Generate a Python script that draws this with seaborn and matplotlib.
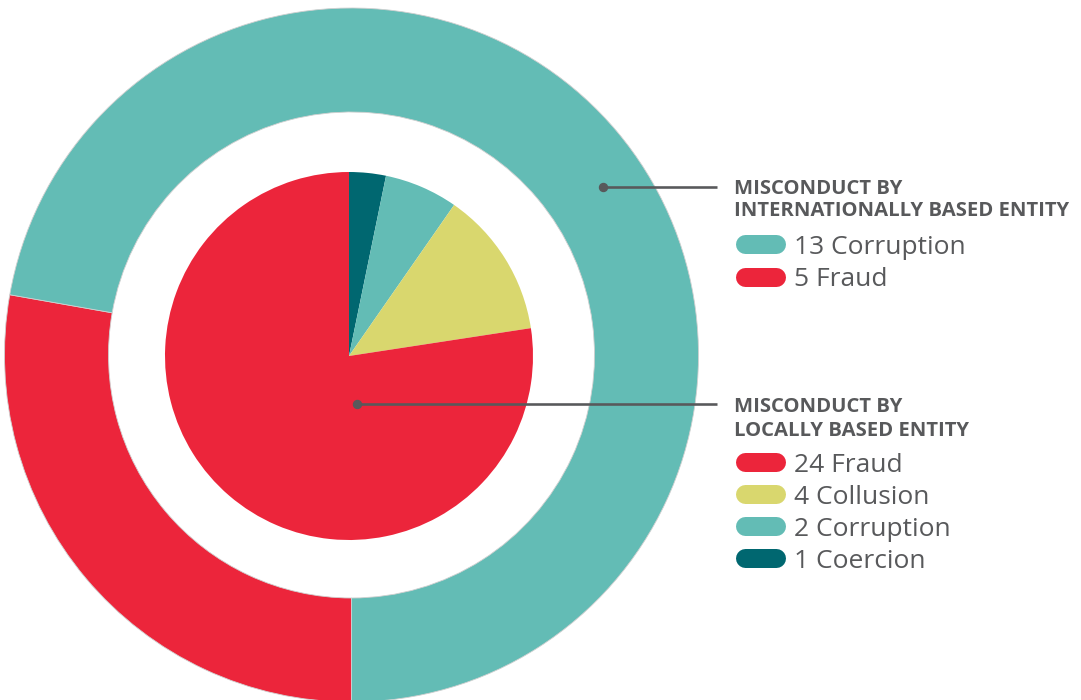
import matplotlib
matplotlib.use("Agg")
import matplotlib.pyplot as plt
import seaborn as sns

# ---- data ----
outer_labels = ["Fraud", "Corruption"]
outer_values = [5, 13]
inner_labels = ["Coercion", "Corruption", "Collusion", "Fraud"]
inner_values = [1, 2, 4, 24]

intl_legend_labels = ["Corruption", "Fraud"]
intl_legend_values = [13, 5]
local_legend_labels = ["Fraud", "Collusion", "Corruption", "Coercion"]
local_legend_values = [24, 4, 2, 1]

title_intl = "MISCONDUCT BY\nINTERNATIONALLY BASED ENTITY"
title_local = "MISCONDUCT BY\nLOCALLY BASED ENTITY"

# ---- style ----
sns.set_theme(style="white")
plt.rcParams["font.family"] = ["Open Sans", "DejaVu Sans"]

COLORS = {
    "Fraud": "#EC253B",
    "Corruption": "#63BCB5",
    "Collusion": "#D9D76E",
    "Coercion": "#006770",
}
GRAY = "#58595B"

W, H = 1081, 700
fig = plt.figure(figsize=(W / 100, H / 100), dpi=100)
ax = fig.add_axes([0, 0, 1, 1])


def Y(py):
    return H - py


# outer ring (international)
ax.pie(outer_values, colors=[COLORS[l] for l in outer_labels],
       startangle=-90, counterclock=False, radius=347,
       center=(351.5, Y(355)),
       wedgeprops=dict(width=104, linewidth=0.6, edgecolor="#d0d0d0"))

# inner pie (local)
ax.pie(inner_values, colors=[COLORS[l] for l in inner_labels],
       startangle=90, counterclock=False, radius=184,
       center=(349, Y(356)),
       wedgeprops=dict(linewidth=0))

ax.set_xlim(0, W)
ax.set_ylim(0, H)
ax.set_aspect("equal")
ax.axis("off")

lw_pt = 2.6 * 0.72
# leader lines
ax.plot([603, 717], [Y(187), Y(187)], color=GRAY, lw=lw_pt, solid_capstyle="butt")
ax.plot([603], [Y(187)], "o", color=GRAY, ms=8 * 0.72)
ax.plot([357, 717], [Y(404), Y(404)], color=GRAY, lw=lw_pt, solid_capstyle="butt")
ax.plot([357], [Y(404)], "o", color=GRAY, ms=8 * 0.72)

title_fs = 14.6
item_fs = 19

ax.text(734, Y(200), title_intl, ha="left", va="center", fontsize=title_fs,
        fontweight="bold", color=GRAY, linespacing=1.2)
ax.text(734, Y(419), title_local, ha="left", va="center", fontsize=title_fs,
        fontweight="bold", color=GRAY, linespacing=1.2)


def legend_rows(labels, values, y0, dy):
    for i, (lab, val) in enumerate(zip(labels, values)):
        yy = Y(y0 + i * dy)
        ax.plot([744.5, 775.5], [yy, yy], color=COLORS[lab], lw=19 * 0.72,
                solid_capstyle="round")
        ax.text(794, yy, f"{val} {lab}", ha="left", va="center_baseline",
                fontsize=item_fs, color=GRAY)


legend_rows(intl_legend_labels, intl_legend_values, 244, 32.5)
legend_rows(local_legend_labels, local_legend_values, 462, 32)

fig.savefig("out.png", dpi=100)
